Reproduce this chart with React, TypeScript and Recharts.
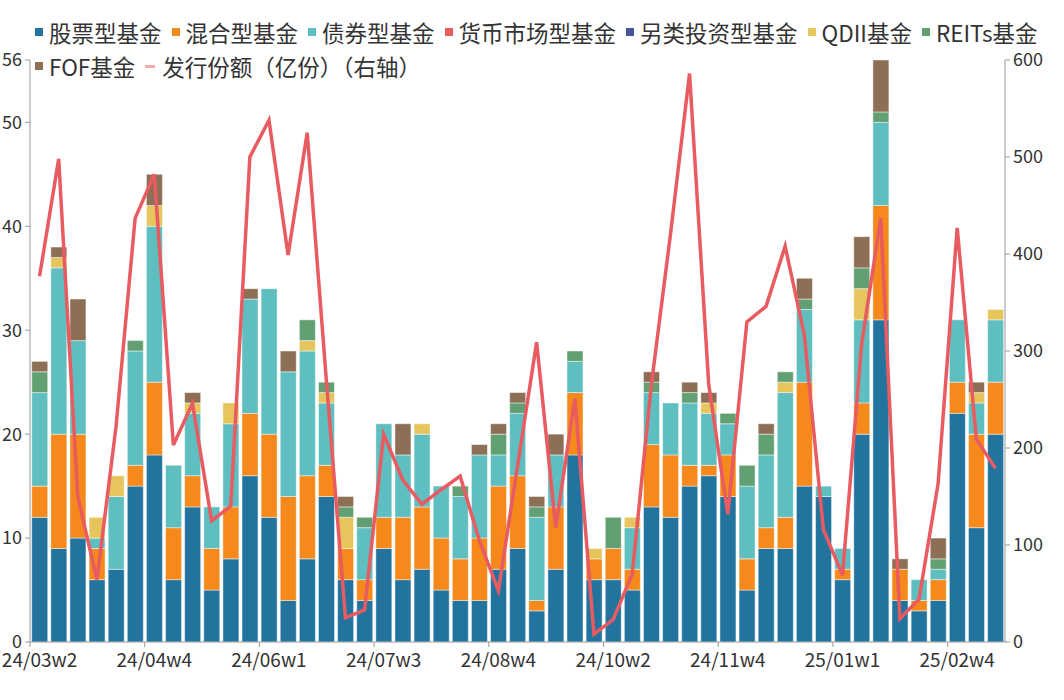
import React from 'react'
import { ComposedChart, Bar, Line, XAxis, YAxis, Legend } from 'recharts'

// 周度标签（每6周显示一个）
const weeks = [
  '24/03w2', '24/03w3', '24/03w4', '24/04w1', '24/04w2', '24/04w3', '24/04w4', '24/04w5', '24/05w1', '24/05w2',
  '24/05w3', '24/05w4', '24/06w1', '24/06w2', '24/06w3', '24/06w4', '24/07w1', '24/07w2', '24/07w3', '24/07w4',
  '24/07w5', '24/08w1', '24/08w2', '24/08w3', '24/08w4', '24/09w1', '24/09w2', '24/09w3', '24/09w4', '24/10w1',
  '24/10w2', '24/10w3', '24/10w4', '24/11w1', '24/11w2', '24/11w3', '24/11w4', '24/12w1', '24/12w2', '24/12w3',
  '24/12w4', '24/12w5', '25/01w1', '25/01w2', '25/01w3', '25/02w1', '25/02w2', '25/02w3', '25/02w4', '25/03w1',
  '25/03w2',
]

const stock = [12, 9, 10, 6, 7, 15, 18, 6, 13, 5, 8, 16, 12, 4, 8, 14, 6, 4, 9, 6, 7, 5, 4, 4, 7, 9, 3, 7, 18, 6, 6, 5, 13, 12, 15, 16, 14, 5, 9, 9, 15, 14, 6, 20, 31, 4, 3, 4, 22, 11, 20]
const mixed = [3, 11, 10, 3, 0, 2, 7, 5, 3, 4, 5, 6, 8, 10, 8, 3, 3, 2, 3, 6, 6, 5, 4, 6, 8, 7, 1, 6, 6, 2, 3, 2, 6, 6, 2, 1, 4, 3, 2, 3, 10, 0, 1, 3, 11, 3, 1, 2, 3, 9, 5]
const bond = [9, 16, 9, 1, 7, 11, 15, 6, 6, 4, 8, 11, 14, 12, 12, 6, 0, 5, 9, 6, 7, 5, 6, 8, 3, 6, 8, 5, 3, 0, 0, 4, 5, 5, 6, 5, 3, 7, 7, 12, 7, 1, 2, 8, 8, 0, 2, 1, 6, 3, 6]
const money = [0, 0, 0, 0, 0, 0, 0, 0, 0, 0, 0, 0, 0, 0, 0, 0, 0, 0, 0, 0, 0, 0, 0, 0, 0, 0, 0, 0, 0, 0, 0, 0, 0, 0, 0, 0, 0, 0, 0, 0, 0, 0, 0, 0, 0, 0, 0, 0, 0, 0, 0]
const alt = [0, 0, 0, 0, 0, 0, 0, 0, 0, 0, 0, 0, 0, 0, 0, 0, 0, 0, 0, 0, 0, 0, 0, 0, 0, 0, 0, 0, 0, 0, 0, 0, 0, 0, 0, 0, 0, 0, 0, 0, 0, 0, 0, 0, 0, 0, 0, 0, 0, 0, 0]
const qdii = [0, 1, 0, 2, 2, 0, 2, 0, 1, 0, 2, 0, 0, 0, 1, 1, 3, 0, 0, 0, 1, 0, 0, 0, 0, 0, 0, 0, 0, 1, 0, 1, 0, 0, 0, 1, 0, 0, 0, 1, 0, 0, 0, 3, 0, 0, 0, 0, 0, 1, 1]
const reits = [2, 0, 0, 0, 0, 1, 0, 0, 0, 0, 0, 0, 0, 0, 2, 1, 1, 1, 0, 0, 0, 0, 1, 0, 2, 1, 1, 0, 1, 0, 3, 0, 1, 0, 1, 0, 1, 2, 2, 1, 1, 0, 0, 2, 1, 0, 0, 1, 0, 0, 0]
const fof = [1, 1, 4, 0, 0, 0, 3, 0, 1, 0, 0, 1, 0, 2, 0, 0, 1, 0, 0, 3, 0, 0, 0, 1, 1, 1, 1, 2, 0, 0, 0, 0, 1, 0, 1, 1, 0, 0, 1, 0, 2, 0, 0, 3, 5, 1, 0, 2, 0, 1, 0]
// 发行份额（亿份），右轴
const issue = [377, 498, 150, 64, 222, 437, 482, 203, 246, 125, 140, 500, 538, 399, 525, 270, 25, 33, 214, 167, 142, 157, 171, 105, 53, 181, 309, 118, 251, 8, 23, 70, 265, 420, 586, 266, 132, 330, 346, 408, 317, 116, 69, 307, 437, 24, 44, 163, 427, 209, 179]

const leftTicks = [0, 10, 20, 30, 40, 50, 56]
const rightTicks = [0, 100, 200, 300, 400, 500, 600]

const SERIES = [
  { key: 'stock', name: '股票型基金', color: '#22749f' },
  { key: 'mixed', name: '混合型基金', color: '#f5891b' },
  { key: 'bond', name: '债券型基金', color: '#5fbec0' },
  { key: 'money', name: '货币市场型基金', color: '#e85b61' },
  { key: 'alt', name: '另类投资型基金', color: '#48539a' },
  { key: 'qdii', name: 'QDII基金', color: '#e6c65c' },
  { key: 'reits', name: 'REITs基金', color: '#62a073' },
  { key: 'fof', name: 'FOF基金', color: '#8d6f56' },
]
const LINE_COLOR = '#e85b61'
const FONT = '"Noto Sans CJK SC", "Noto Sans", sans-serif'

const data = weeks.map((week, i) => ({
  week,
  stock: stock[i],
  mixed: mixed[i],
  bond: bond[i],
  money: money[i],
  alt: alt[i],
  qdii: qdii[i],
  reits: reits[i],
  fof: fof[i],
  issue: issue[i],
}))

const BAND = 975 / weeks.length

function WeekTick({ x, y, payload }: any) {
  return (
    <g>
      <line x1={x - BAND / 2} x2={x - BAND / 2} y1={y} y2={y + 5} stroke="#999" />
      <text x={x} y={y + 25} textAnchor="middle" fontSize={19} fill="#333">
        {payload.value}
      </text>
    </g>
  )
}

function LegendBox() {
  const items = [
    ...SERIES.map(s => ({ name: s.name, color: s.color, line: false })),
    { name: '发行份额（亿份）（右轴）', color: LINE_COLOR, line: true },
  ]
  return (
    <div style={{ display: 'flex', flexWrap: 'wrap', width: 1020, rowGap: 12, fontSize: 22.5, color: '#333', lineHeight: '22px' }}>
      {items.map(it => (
        <div key={it.name} style={{ display: 'flex', alignItems: 'center', marginRight: 10 }}>
          {it.line ? (
            <span style={{ width: 10, height: 3, background: it.color, opacity: 0.5, marginRight: 7 }} />
          ) : (
            <span style={{ width: 8, height: 8, background: it.color, marginRight: 6 }} />
          )}
          <span>{it.name}</span>
        </div>
      ))}
    </div>
  )
}

export default function App() {
  return (
    <div style={{ position: 'absolute', left: 0, top: 0, fontFamily: FONT }}>
      <ComposedChart
        width={1064}
        height={700}
        data={data}
        margin={{ top: 60, right: 0, left: 0, bottom: 0 }}
        barCategoryGap="9%"
      >
        <XAxis
          dataKey="week"
          height={58}
          interval={5}
          tickSize={0}
          tickMargin={0}
          tick={<WeekTick />}
          axisLine={{ stroke: '#999' }}
          tickLine={false}
        />
        <YAxis
          yAxisId="left"
          width={30}
          domain={[0, 56]}
          ticks={leftTicks}
          interval={0}
          tickSize={5}
          tickMargin={3}
          axisLine={{ stroke: '#999' }}
          tickLine={{ stroke: '#999' }}
          tick={{ fill: '#333', fontSize: 18 }}
        />
        <YAxis
          yAxisId="right"
          orientation="right"
          width={59}
          domain={[0, 600]}
          ticks={rightTicks}
          interval={0}
          tickSize={5}
          tickMargin={3}
          axisLine={{ stroke: '#999' }}
          tickLine={{ stroke: '#999' }}
          tick={{ fill: '#333', fontSize: 18 }}
        />
        <Legend
          verticalAlign="middle"
          align="center"
          wrapperStyle={{ top: 21, left: 35, width: 1025 }}
          content={() => <LegendBox />}
        />
        {SERIES.map(s => (
          <Bar
            key={s.key}
            yAxisId="left"
            dataKey={s.key}
            name={s.name}
            stackId="funds"
            fill={s.color}
            stroke="rgba(255,255,255,0.45)"
            strokeWidth={1}
            isAnimationActive={false}
          />
        ))}
        <Line
          yAxisId="right"
          dataKey="issue"
          name="发行份额（亿份）（右轴）"
          type="linear"
          stroke={LINE_COLOR}
          strokeWidth={3.5}
          dot={false}
          activeDot={false}
          isAnimationActive={false}
        />
      </ComposedChart>
    </div>
  )
}
